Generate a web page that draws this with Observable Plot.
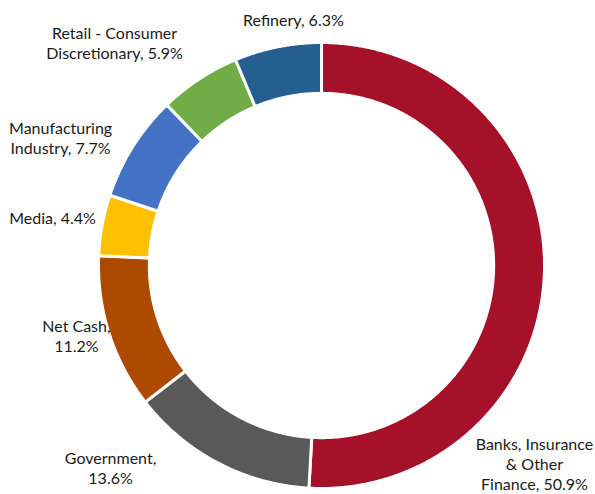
<!DOCTYPE html>
<html>
<head>
<meta charset="utf-8">
<script src="https://cdn.jsdelivr.net/npm/d3@7"></script>
<script src="https://cdn.jsdelivr.net/npm/@observablehq/plot@0.6"></script>
<style>
  html, body { margin: 0; padding: 0; background: #fff; }
  svg { display: block; }
</style>
</head>
<body>
<div id="chart"></div>
<script>
// ---- data ----
const categories = [
  "Banks, Insurance & Other Finance",
  "Government",
  "Net Cash",
  "Media",
  "Manufacturing Industry",
  "Retail - Consumer Discretionary",
  "Refinery"
];
const shares = [50.9, 13.6, 11.2, 4.4, 7.7, 5.9, 6.3];
const labels = [
  "Banks, Insurance\n& Other\nFinance, 50.9%",
  "Government,\n13.6%",
  "Net Cash,\n11.2%",
  "Media, 4.4%",
  "Manufacturing\nIndustry, 7.7%",
  "Retail - Consumer\nDiscretionary, 5.9%",
  "Refinery, 6.3%"
];
const colors = ["#A6112A", "#595959", "#AD4A00", "#FFC000", "#4472C4", "#70AD47", "#255E91"];

// ---- layout (label centres, in units of the outer radius) ----
const labelLayout = [
  [0.955, -0.888],
  [-0.946, -0.906],
  [-1.099, -0.314],
  [-1.206, 0.215],
  [-1.170, 0.574],
  [-0.928, 1.000],
  [-0.126, 1.103]
];
const innerRatio = 0.772;

// ---- derive ring polygons from the data ----
const arcs = d3.pie().sort(null).value(d => d)(shares);
const ringPoints = arcs.flatMap((a, i) => {
  const n = Math.max(2, Math.ceil((a.endAngle - a.startAngle) / 0.005));
  const pts = [];
  for (let k = 0; k <= n; k++) {
    const t = a.startAngle + (a.endAngle - a.startAngle) * k / n;
    pts.push({cat: categories[i], x: Math.sin(t), y: Math.cos(t)});
  }
  for (let k = n; k >= 0; k--) {
    const t = a.startAngle + (a.endAngle - a.startAngle) * k / n;
    pts.push({cat: categories[i], x: innerRatio * Math.sin(t), y: innerRatio * Math.cos(t)});
  }
  return pts;
});
const labelData = categories.map((c, i) => ({cat: c, text: labels[i], x: labelLayout[i][0], y: labelLayout[i][1]}));

const chart = Plot.plot({
  width: 595,
  height: 494,
  margin: 0,
  style: {fontFamily: "Lato, 'Open Sans', sans-serif", background: "#fff"},
  x: {domain: [-1, 1], range: [98, 544], axis: null},
  y: {domain: [-1, 1], range: [488, 42], axis: null},
  color: {domain: categories, range: colors},
  marks: [
    Plot.line(ringPoints, {x: "x", y: "y", z: "cat", fill: "cat", stroke: "white", strokeWidth: 3, curve: "linear-closed"}),
    Plot.text(labelData, {x: "x", y: "y", text: "text", fontSize: 16, lineHeight: 1.25, fill: "#1a1a1a", lineAnchor: "middle"})
  ]
});
document.getElementById("chart").appendChild(chart);
</script>
</body>
</html>
